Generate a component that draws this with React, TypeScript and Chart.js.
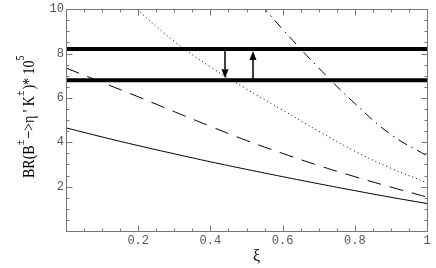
import React, { useEffect, useRef } from "react";
import { Chart, registerables } from "chart.js";

Chart.register(...registerables);

// ---- data ----
const xiValues = [0, 0.1, 0.2, 0.3, 0.4, 0.5, 0.6, 0.7, 0.8, 0.9, 1.0];
const solidValues = [4.65, 4.24, 3.85, 3.48, 3.12, 2.78, 2.45, 2.13, 1.82, 1.52, 1.24];
const dashedValues = [7.35, 6.7, 6.05, 5.38, 4.72, 4.08, 3.5, 2.95, 2.45, 1.98, 1.53];
const dottedXi = [0.1, 0.2, 0.3, 0.4, 0.5, 0.6, 0.7, 0.8, 0.9, 1.0];
const dottedValues = [11.5, 9.95, 8.55, 7.4, 6.4, 5.45, 4.5, 3.6, 2.83, 2.17];
const dashDotXi = [0.5, 0.6, 0.7, 0.8, 0.9, 1.0];
const dashDotValues = [10.95, 9.1, 7.35, 5.75, 4.35, 3.39];
const bandValues = [8.2, 6.8];
const arrowX = [0.44, 0.517];
const xTickLabels = [0.2, 0.4, 0.6, 0.8, 1];
const yTickLabels = [2, 4, 6, 8, 10];

const TICK_FONT = { family: "'Liberation Mono', 'DejaVu Sans Mono', monospace", size: 12 };
const TICK_COLOR = "#555";
const FRAME_COLOR = "#777";

function toPoints(xs: number[], ys: number[]) {
  return xs.map((x, i) => ({ x, y: ys[i] }));
}

const near = (a: number, b: number) => Math.abs(a - b) < 1e-6;

const framePlugin = {
  id: "frameTicks",
  afterDraw(chart: any) {
    const { ctx, chartArea: a, scales } = chart;
    const xs = scales.x;
    const ys = scales.y;
    const L = Math.round(a.left) + 0.5;
    const R = Math.round(a.right) + 0.5;
    const T = Math.round(a.top) + 0.5;
    const B = Math.round(a.bottom) + 0.5;
    ctx.save();
    ctx.strokeStyle = FRAME_COLOR;
    ctx.lineWidth = 1;
    ctx.strokeRect(L, T, R - L, B - T);
    ctx.beginPath();
    for (let i = 1; i < 20; i++) {
      const v = i * 0.05;
      const major = xTickLabels.some((t) => near(t, v));
      const len = major ? 6 : 3;
      const px = Math.round(xs.getPixelForValue(v)) + 0.5;
      ctx.moveTo(px, B);
      ctx.lineTo(px, B - len);
      ctx.moveTo(px, T);
      ctx.lineTo(px, T + len);
    }
    for (let i = 1; i < 20; i++) {
      const v = i * 0.5;
      const major = yTickLabels.some((t) => near(t, v));
      const len = major ? 6 : 3;
      const py = Math.round(ys.getPixelForValue(v)) + 0.5;
      ctx.moveTo(L, py);
      ctx.lineTo(L + len, py);
      ctx.moveTo(R, py);
      ctx.lineTo(R - len, py);
    }
    ctx.stroke();
    ctx.restore();
  },
};

const arrowPlugin = {
  id: "arrows",
  afterDatasetsDraw(chart: any) {
    const { ctx, scales } = chart;
    const xs = scales.x;
    const ys = scales.y;
    const yTop = ys.getPixelForValue(bandValues[0]);
    const yBot = ys.getPixelForValue(bandValues[1]);
    const draw = (x: number, from: number, to: number) => {
      const dir = to > from ? 1 : -1;
      const headLen = 9;
      const halfW = 3.5;
      ctx.save();
      ctx.strokeStyle = "#000";
      ctx.fillStyle = "#000";
      ctx.lineWidth = 1.5;
      ctx.beginPath();
      ctx.moveTo(x, from);
      ctx.lineTo(x, to - dir * headLen);
      ctx.stroke();
      ctx.beginPath();
      ctx.moveTo(x, to);
      ctx.lineTo(x - halfW, to - dir * headLen);
      ctx.lineTo(x + halfW, to - dir * headLen);
      ctx.closePath();
      ctx.fill();
      ctx.restore();
    };
    draw(Math.round(xs.getPixelForValue(arrowX[0])), yTop, yBot - 2);
    draw(Math.round(xs.getPixelForValue(arrowX[1])), yBot, yTop + 2);
  },
};

const titlePlugin = {
  id: "titles",
  afterDraw(chart: any) {
    const { ctx, chartArea: a } = chart;
    ctx.save();
    ctx.fillStyle = "#000";
    ctx.font = "16px 'Liberation Serif', serif";
    ctx.textAlign = "center";
    ctx.textBaseline = "alphabetic";
    ctx.fillText("ξ", (a.left + a.right) / 2 + 10, 261);
    ctx.restore();

    ctx.save();
    ctx.translate(34, 178);
    ctx.rotate(-Math.PI / 2);
    ctx.scale(1, 1.2);
    ctx.fillStyle = "#000";
    ctx.textAlign = "left";
    ctx.textBaseline = "alphabetic";
    const pieces: { t: string; sup?: boolean }[] = [
      { t: "BR(B" },
      { t: "±", sup: true },
      { t: "−>η ' K" },
      { t: "±", sup: true },
      { t: ")* 10" },
      { t: "5", sup: true },
    ];
    let x = 0;
    for (const p of pieces) {
      ctx.font = p.sup ? "10px 'Liberation Serif', serif" : "14px 'Liberation Serif', serif";
      ctx.fillText(p.t, x, p.sup ? -8 : 0);
      x += ctx.measureText(p.t).width + (p.sup ? 1 : 0);
    }
    ctx.restore();
  },
};

export default function App() {
  const ref = useRef<HTMLCanvasElement | null>(null);
  useEffect(() => {
    if (!ref.current) return;
    const line = (data: any, dash: number[], width = 1) => ({
      data,
      borderColor: "#000",
      borderWidth: width,
      borderDash: dash,
      borderCapStyle: "butt",
      pointRadius: 0,
      fill: false,
      tension: 0.4,
    });
    const chart = new Chart(ref.current, {
      type: "line",
      data: {
        datasets: [
          line(toPoints(xiValues, solidValues), []),
          line(toPoints(xiValues, dashedValues), [14, 9]),
          line(toPoints(dottedXi, dottedValues), [1, 3]),
          line(toPoints(dashDotXi, dashDotValues), [10, 5, 1.5, 5]),
          line([{ x: 0, y: bandValues[0] }, { x: 1, y: bandValues[0] }], [], 4),
          line([{ x: 0, y: bandValues[1] }, { x: 1, y: bandValues[1] }], [], 4),
        ] as any,
      },
      options: {
        animation: false,
        responsive: false,
        layout: { padding: { top: 7, right: 9, left: 0, bottom: 0 } },
        plugins: { legend: { display: false }, tooltip: { enabled: false } },
        scales: {
          x: {
            type: "linear",
            min: 0,
            max: 1,
            grid: { display: false, drawTicks: false, tickLength: 0 },
            border: { display: false },
            ticks: {
              stepSize: 0.05,
              autoSkip: false,
              maxRotation: 0,
              padding: 3,
              font: TICK_FONT,
              color: TICK_COLOR,
              callback: (v: any) => {
                const t = xTickLabels.find((l) => near(l, Number(v)));
                return t === undefined ? "" : String(t);
              },
            },
            afterFit: (s: any) => {
              s.height = 37;
            },
          },
          y: {
            type: "linear",
            min: 0,
            max: 10,
            grid: { display: false, drawTicks: false, tickLength: 0 },
            border: { display: false },
            ticks: {
              stepSize: 0.5,
              autoSkip: false,
              padding: 2,
              font: TICK_FONT,
              color: TICK_COLOR,
              callback: (v: any) => {
                const t = yTickLabels.find((l) => near(l, Number(v)));
                return t === undefined ? "" : String(t);
              },
            },
            afterFit: (s: any) => {
              s.width = 66;
            },
          },
        },
      },
      plugins: [framePlugin, arrowPlugin, titlePlugin],
    });
    return () => chart.destroy();
  }, []);
  return (
    <div style={{ position: "fixed", left: 0, top: 0, width: 436, height: 268, background: "#fff" }}>
      <canvas ref={ref} width={436} height={268} style={{ width: 436, height: 268 }} />
    </div>
  );
}
